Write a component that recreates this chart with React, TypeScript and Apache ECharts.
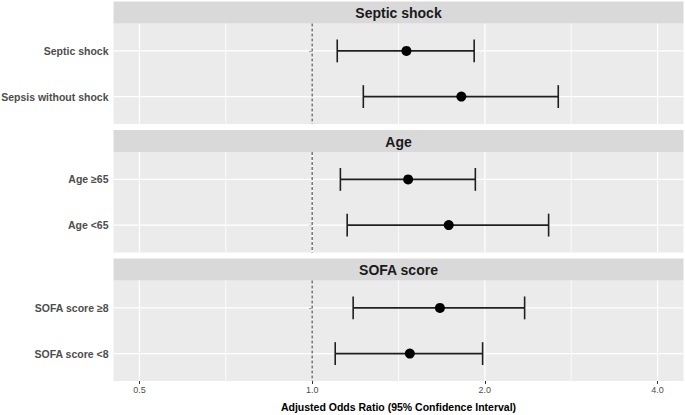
import React, { useEffect, useRef } from "react";
import * as echarts from "echarts";

// ---- Data ----
const groupTitles = ["Septic shock", "Age", "SOFA score"];
const rowLabels = [
  ["Septic shock", "Sepsis without shock"],
  ["Age \u226565", "Age <65"],
  ["SOFA score \u22658", "SOFA score <8"],
];
const estimates = [
  [1.46, 1.82],
  [1.47, 1.73],
  [1.67, 1.48],
];
const lowerCI = [
  [1.106, 1.228],
  [1.12, 1.151],
  [1.179, 1.097],
];
const upperCI = [
  [1.916, 2.685],
  [1.925, 2.583],
  [2.346, 1.982],
];
const xTickValues = [0.5, 1, 2, 4];
const xTitle = "Adjusted Odds Ratio (95% Confidence Interval)";
const referenceValue = 1;

const FONT = "'Liberation Sans Narrow', 'Arial Narrow', 'Liberation Sans', Arial, sans-serif";

export default function App() {
  const ref = useRef<HTMLDivElement>(null);

  useEffect(() => {
    if (!ref.current) return;
    const chart = echarts.init(ref.current, undefined, { renderer: "svg" });

    const panelLeft = 113.5;
    const panelWidth = 570;
    const stripH = 22;
    const panelH = 100.5;
    const stripTops = [1.5, 130, 258.5];
    const xMin = -1.15;
    const xMax = 2.15;
    const yMin = 0.4;
    const yMax = 2.6;

    const majorX = xTickValues.map((v) => Math.log2(v));
    const minorX: number[] = [];
    for (let i = 0; i < majorX.length - 1; i++) minorX.push((majorX[i] + majorX[i + 1]) / 2);
    const rowPos = [1, 2];

    const grids: any[] = [];
    const xAxes: any[] = [];
    const yAxes: any[] = [];
    const series: any[] = [];
    const graphics: any[] = [];

    groupTitles.forEach((title, gi) => {
      const top = stripTops[gi] + stripH;
      grids.push({
        left: panelLeft,
        top,
        width: panelWidth,
        height: panelH,
        show: true,
        backgroundColor: "#EBEBEB",
        borderWidth: 0,
        containLabel: false,
        outerBoundsMode: "none",
      });
      const isLast = gi === groupTitles.length - 1;
      xAxes.push({
        type: "value",
        gridIndex: gi,
        min: xMin,
        max: xMax,
        axisLine: { show: false },
        splitLine: { show: false },
        axisTick: {
          show: isLast,
          length: 3,
          customValues: majorX,
          lineStyle: { color: "#333333", width: 1 },
        },
        axisLabel: {
          show: isLast,
          customValues: majorX,
          formatter: (v: number) => Math.pow(2, v).toFixed(1),
          color: "#4D4D4D",
          fontFamily: FONT,
          fontSize: 9,
          margin: 4,
        },
        name: isLast ? xTitle : "",
        nameLocation: "middle",
        nameGap: 20,
        nameTextStyle: {
          fontFamily: FONT,
          fontWeight: "bold",
          fontSize: 10.5,
          color: "#000000",
        },
      });
      yAxes.push({
        type: "value",
        gridIndex: gi,
        min: yMin,
        max: yMax,
        inverse: true,
        axisLine: { show: false },
        splitLine: { show: false },
        axisTick: {
          show: true,
          length: 3,
          customValues: rowPos,
          lineStyle: { color: "#333333", width: 1 },
        },
        axisLabel: {
          show: true,
          customValues: rowPos,
          formatter: (v: number) => rowLabels[gi][Math.round(v) - 1] || "",
          color: "#4D4D4D",
          fontFamily: FONT,
          fontWeight: "bold",
          fontSize: 10.5,
          margin: 5,
        },
      });

      // grid lines
      series.push({
        type: "custom",
        xAxisIndex: gi,
        yAxisIndex: gi,
        z: 1,
        silent: true,
        data: [
          ...majorX.map((v) => [v, 0, 1.2]),
          ...minorX.map((v) => [v, 0, 0.8]),
          ...rowPos.map((v) => [v, 1, 1.2]),
        ],
        renderItem: (params: any, api: any) => {
          const val = api.value(0);
          const dir = api.value(1);
          const w = api.value(2);
          let p1, p2;
          if (dir === 0) {
            p1 = api.coord([val, yMin]);
            p2 = api.coord([val, yMax]);
          } else {
            p1 = api.coord([xMin, val]);
            p2 = api.coord([xMax, val]);
          }
          return {
            type: "line",
            shape: { x1: p1[0], y1: p1[1], x2: p2[0], y2: p2[1] },
            style: { stroke: "#FFFFFF", lineWidth: w },
          };
        },
      });

      // reference dashed line
      series.push({
        type: "custom",
        xAxisIndex: gi,
        yAxisIndex: gi,
        z: 2,
        silent: true,
        data: [[Math.log2(referenceValue)]],
        renderItem: (params: any, api: any) => {
          const p1 = api.coord([api.value(0), yMin]);
          const p2 = api.coord([api.value(0), yMax]);
          return {
            type: "line",
            shape: { x1: p1[0], y1: p1[1], x2: p2[0], y2: p2[1] },
            style: { stroke: "#333333", lineWidth: 1, lineDash: [3, 2] },
          };
        },
      });

      // error bars
      series.push({
        type: "custom",
        xAxisIndex: gi,
        yAxisIndex: gi,
        z: 3,
        silent: true,
        encode: { x: [0, 1], y: 2 },
        data: rowPos.map((r, ri) => [
          Math.log2(lowerCI[gi][ri]),
          Math.log2(upperCI[gi][ri]),
          r,
        ]),
        renderItem: (params: any, api: any) => {
          const lo = api.value(0);
          const hi = api.value(1);
          const y = api.value(2);
          const pLo = api.coord([lo, y]);
          const pHi = api.coord([hi, y]);
          const capH = Math.abs(api.size([0, 0.5])[1]);
          const st = { stroke: "#1F1F1F", lineWidth: 1.6 };
          return {
            type: "group",
            children: [
              { type: "line", shape: { x1: pLo[0], y1: pLo[1], x2: pHi[0], y2: pHi[1] }, style: st },
              { type: "line", shape: { x1: pLo[0], y1: pLo[1] - capH / 2, x2: pLo[0], y2: pLo[1] + capH / 2 }, style: st },
              { type: "line", shape: { x1: pHi[0], y1: pHi[1] - capH / 2, x2: pHi[0], y2: pHi[1] + capH / 2 }, style: st },
            ],
          };
        },
      });

      // point estimates
      series.push({
        type: "scatter",
        xAxisIndex: gi,
        yAxisIndex: gi,
        z: 4,
        silent: true,
        symbol: "circle",
        symbolSize: 10,
        itemStyle: { color: "#000000", opacity: 1 },
        data: rowPos.map((r, ri) => [Math.log2(estimates[gi][ri]), r]),
      });

      // strip
      graphics.push({
        type: "rect",
        shape: { x: panelLeft, y: stripTops[gi], width: panelWidth, height: stripH },
        style: { fill: "#D9D9D9" },
        silent: true,
      });
      graphics.push({
        type: "text",
        x: panelLeft + panelWidth / 2,
        y: stripTops[gi] + stripH / 2 + 0.5,
        silent: true,
        style: {
          text: title,
          fill: "#1A1A1A",
          font: `bold 14px ${FONT}`,
          align: "center",
          verticalAlign: "middle",
          textAlign: "center",
          textVerticalAlign: "middle",
        },
      });
    });

    chart.setOption({
      animation: false,
      backgroundColor: "#FFFFFF",
      grid: grids,
      xAxis: xAxes,
      yAxis: yAxes,
      series,
      graphic: graphics,
    });

    return () => chart.dispose();
  }, []);

  return (
    <div
      ref={ref}
      style={{ position: "absolute", left: 0, top: 0, width: 685, height: 415 }}
    />
  );
}
